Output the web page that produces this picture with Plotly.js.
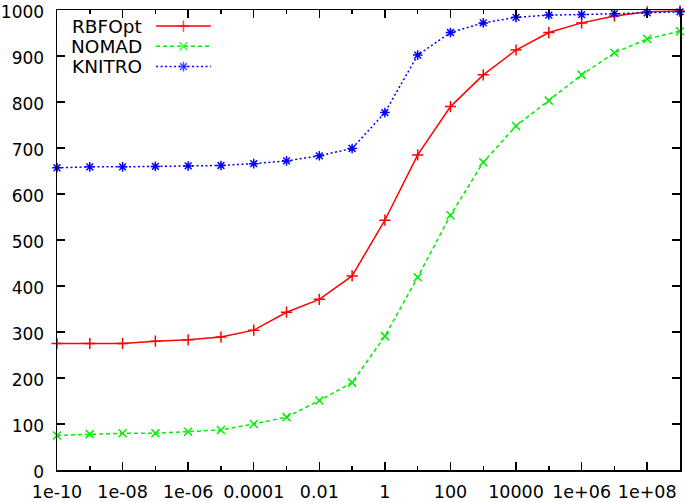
<!DOCTYPE html>
<html><head><meta charset="utf-8">
<script src="https://cdn.plot.ly/plotly-3.0.1.min.js"></script>
<style>html,body{margin:0;padding:0;background:#fff;}#chart{width:685px;height:502px;}</style>
</head><body><div id="chart"></div>
<script>
const xVals = [1e-10,1e-9,1e-8,1e-7,1e-6,1e-5,1e-4,1e-3,1e-2,1e-1,1,10,100,1000,1e4,1e5,1e6,1e7,1e8,1e9];
const rbfopt = [275,275,275,280,283,289,304,343,371,422,543,685,790,859,913,951,972,987,996,998];
const nomad  = [75,78,80,80,83,87,100,115,151,190,291,419,554,669,748,803,859,907,937,954];
const knitro = [657,659,659,660,661,662,666,672,683,699,777,902,951,972,984,989,990,992,994,996];
const seriesNames = ['RBFOpt','NOMAD','KNITRO'];
const xTickVals = [1e-10,1e-8,1e-6,1e-4,1e-2,1,100,1e4,1e6,1e8];
const xTickText = ['1e-10','1e-08','1e-06','0.0001','0.01','1','100','10000','1e+06','1e+08'];
const xMinorVals = [1e-9,1e-7,1e-5,1e-3,1e-1,10,1000,1e5,1e7];
const yTickVals = [0,100,200,300,400,500,600,700,800,900,1000];

const colors = ['#ff0000','#00ee00','#0000ff'];
const dashes = ['solid','4px,3px','2px,2.5px'];
const symbols = ['cross-thin-open','x-thin-open','asterisk-open'];
const ys = [rbfopt, nomad, knitro];

const font = {family:'DejaVu Sans, Liberation Sans, Arial, sans-serif', size:17.5, color:'#000'};
const yFont = {family:'DejaVu Sans, Liberation Sans, Arial, sans-serif', size:17, color:'#000'};
const legFont = {family:'DejaVu Sans, Liberation Sans, Arial, sans-serif', size:18.5, color:'#000'};
const traces = [];
ys.forEach((y,i)=>{
  traces.push({x:xVals, y:y, type:'scatter', mode:'lines+markers', name:seriesNames[i],
    line:{color:colors[i], width:1.5, dash:dashes[i]},
    marker:{symbol:symbols[i], size:8, color:colors[i], line:{color:colors[i], width:1.5}},
    showlegend:false, hoverinfo:'x+y', cliponaxis:false});
});
// legend samples (gnuplot-style key: text then sample)
const legRows = [0.965, 0.921, 0.877];
const annotations = [];
legRows.forEach((r,i)=>{
  traces.push({x:[0.159,0.203,0.247], y:[r,r,r], xaxis:'x2', yaxis:'y2', type:'scatter', mode:'lines+markers',
    line:{color:colors[i], width:1.5, dash:dashes[i]},
    marker:{symbol:symbols[i], size:[0,8,0], color:colors[i], line:{color:colors[i], width:1.5}},
    showlegend:false, hoverinfo:'skip'});
  annotations.push({xref:'paper', yref:'paper', x:0.139, y:r, xanchor:'right', yanchor:'middle',
    text:seriesNames[i], showarrow:false, font:legFont});
});

const layout = {
  width:685, height:502,
  margin:{l:57, r:5, t:10, b:32},
  paper_bgcolor:'#fff', plot_bgcolor:'#fff',
  font:font,
  showlegend:false,
  xaxis:{type:'log', range:[-10,9], tickmode:'array', tickvals:xTickVals, ticktext:xTickText,
    ticks:'inside', ticklen:8, tickwidth:1.5, tickcolor:'#000', showgrid:false, zeroline:false,
    showline:true, linecolor:'#000', linewidth:1.5, mirror:'ticks', tickfont:font,
    ticklabelstandoff:5, ticklabeloverflow:'allow',
    minor:{tickmode:'array', tickvals:xMinorVals, ticks:'inside', ticklen:4, tickwidth:1.5, tickcolor:'#000', showgrid:false}},
  yaxis:{range:[0,1000], tickmode:'array', tickvals:yTickVals,
    ticks:'inside', ticklen:8, tickwidth:1.5, tickcolor:'#000', showgrid:false, zeroline:false,
    showline:true, linecolor:'#000', linewidth:1.5, mirror:'ticks', tickfont:yFont,
    ticklabelstandoff:8, ticklabeloverflow:'allow', ticklabelshift:2},
  xaxis2:{overlaying:'x', range:[0,1], visible:false, fixedrange:true},
  yaxis2:{overlaying:'y', range:[0,1], visible:false, fixedrange:true},
  annotations:annotations
};
Plotly.newPlot('chart', traces, layout, {displayModeBar:false, staticPlot:true});
</script></body></html>
